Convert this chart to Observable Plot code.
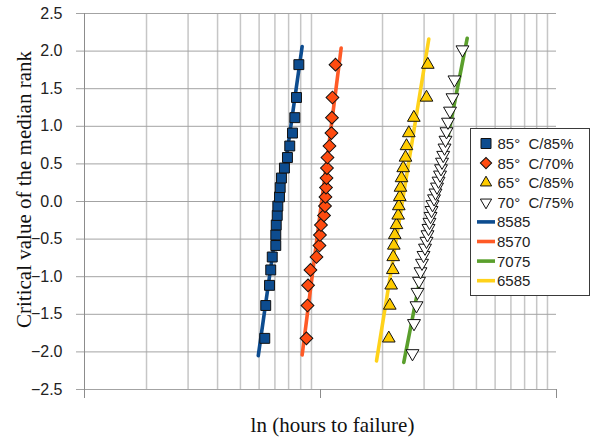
<!DOCTYPE html>
<html><head><meta charset="utf-8">
<script src="https://cdn.jsdelivr.net/npm/d3@7"></script>
<script src="https://cdn.jsdelivr.net/npm/@observablehq/plot@0.6"></script>
<style>
body{margin:0;background:#fff;}
#wrap{position:relative;width:592px;height:444px;overflow:hidden;background:#fff;}
#legend{position:absolute;left:470px;top:128px;width:118px;height:166px;border:1px solid #3a3a3a;background:#fff;}
</style></head><body><div id="wrap"></div>
<script>
// critical values of the median rank (y)
const rank20 = [-1.82,-1.383,-1.115,-0.91,-0.738,-0.585,-0.445,-0.312,-0.185,-0.061,0.061,0.185,0.312,0.445,0.585,0.738,0.91,1.115,1.383,1.82];
const rank32 = [-2.02,-1.62,-1.383,-1.205,-1.058,-0.931,-0.818,-0.714,-0.617,-0.526,-0.439,-0.355,-0.274,-0.195,-0.116,-0.039,0.039,0.116,0.195,0.274,0.355,0.439,0.526,0.617,0.714,0.818,0.931,1.058,1.205,1.383,1.62,2.02];
// hours to failure (x, log axis)
const hours8585 = [63.4,64.0,66.4,67.2,68.2,70.6,70.6,70.9,71.6,72.0,73.2,73.7,74.6,76.8,79.1,80.9,83.1,85.0,86.4,88.4];
const hours8570 = [95.2,96.2,96.7,99.0,105.0,108.1,108.6,109.7,113.0,114.1,114.6,115.2,115.8,116.3,116.9,119.2,121.5,122.1,122.7,126.4];
const hours6585 = [212.6,214.7,217.6,221.1,222.0,223.3,225.4,229.2,233.0,234.4,236.7,238.3,240.7,244.7,250.3,252.7,258.5,271.4,307.2,311.1];
const hours7075 = [267.9,271.9,278.6,281.4,285.5,289.7,294.0,298.3,302.7,307.2,310.1,313.2,316.2,319.5,322.6,325.8,330.6,335.4,340.4,345.4,350.5,353.9,357.4,361.6,366.2,369.7,373.3,378.9,386.4,395.9,403.6,436.3];
// fitted lines (endpoints)
const fit8585Hours = [59.5, 91.3],  fit8585Rank = [-2.05, 2.06];
const fit8570Hours = [91.3, 133.6], fit8570Rank = [-2.04, 2.04];
const fit7075Hours = [246.1, 456.8], fit7075Rank = [-2.14, 2.17];
const fit6585Hours = [188.6, 314.1], fit6585Rank = [-2.12, 2.16];
// names
const pointNames = ["85°  C/85%", "85°  C/70%", "65°  C/85%", "70°  C/75%"];
const lineNames = ["8585", "8570", "7075", "6585"];
// axes
const xDomain = [10.92, 1092];
const xGrid = [20,30,40,50,60,70,80,90,100,200,300,400,500,600,700,800,900,1000];
const xTickMarks = [10.92, 109.2, 1092];
const yTicks = [-2.5,-2,-1.5,-1,-0.5,0,0.5,1,1.5,2,2.5];
const yLabel = "Critical value of the median rank";
const xLabel = "ln (hours to failure)";

const colors = {blue:"#0d4c8f", orange:"#ff4b10", orangeLine:"#ff5a26", green:"#5a9f2c", yellowLine:"#ffd21a", yellow:"#ffcc00"};

const toPts = (xs, ys) => xs.map((x, i) => ({x, y: ys[i]}));
const s8585 = toPts(hours8585, rank20);
const s8570 = toPts(hours8570, rank20);
const s6585 = toPts(hours6585, rank20);
const s7075 = toPts(hours7075, rank32);

const serif = "'Liberation Serif', 'Times New Roman', serif";
const lineStyle = {x:"x", y:"y", strokeWidth:3.6};
const chart = Plot.plot({
  width: 592, height: 444,
  marginLeft: 84, marginRight: 36, marginTop: 13, marginBottom: 55,
  x: {type: "log", domain: xDomain, axis: null},
  y: {domain: [-2.5, 2.5], axis: null},
  style: {fontFamily: "'Liberation Sans', Arial, sans-serif", background: "#fff", color: "#222"},
  marks: [
    Plot.ruleX(xGrid, {stroke: "#c6c6c6", strokeWidth: 1.5}),
    Plot.ruleY(yTicks, {stroke: "#a3a3a3", insetLeft: -8}),
    Plot.ruleX([xDomain[0]], {stroke: "#8c8c8c"}),
    Plot.ruleX(xTickMarks, {y1: -2.5, y2: -2.5, insetBottom: -9, stroke: "#8c8c8c"}),
    Plot.axisY(yTicks, {tickSize: 0, tickPadding: 22, fontSize: 16, label: null,
      tickFormat: d => (d < 0 ? "\u2212" : "") + Math.abs(d).toFixed(1)}),
    Plot.line(toPts(fit8585Hours, fit8585Rank), {...lineStyle, stroke: colors.blue}),
    Plot.line(toPts(fit8570Hours, fit8570Rank), {...lineStyle, stroke: colors.orangeLine}),
    Plot.line(toPts(fit7075Hours, fit7075Rank), {...lineStyle, stroke: colors.green}),
    Plot.line(toPts(fit6585Hours, fit6585Rank), {...lineStyle, stroke: colors.yellowLine}),
    Plot.dot(s8585, {x:"x", y:"y", symbol:"square", r:5.6, fill: colors.blue, stroke:"#111", strokeWidth:1}),
    Plot.dot(s8570, {x:"x", y:"y", symbol:"square", rotate:45, r:5.1, fill: colors.orange, stroke:"#111", strokeWidth:1}),
    Plot.dot(s6585, {x:"x", y:"y", symbol:"triangle", r:4.7, fill: colors.yellow, stroke:"#111", strokeWidth:1}),
    Plot.dot(s7075, {x:"x", y:"y", symbol:"triangle", rotate:180, r:4.8, fill: "#fff", stroke:"#111", strokeWidth:1}),
    Plot.text([yLabel], {frameAnchor: "left", textAnchor: "middle", dx: -60, dy: -12, rotate: -90, fontFamily: serif, fontSize: 21, fill: "#111"}),
    Plot.text([xLabel], {frameAnchor: "bottom", textAnchor: "middle", dx: 12, dy: 42, fontFamily: serif, fontSize: 21, fill: "#111"})
  ]
});
const wrap = document.getElementById("wrap");
wrap.appendChild(chart);

// legend
const leg = document.createElement("div");
leg.id = "legend";
wrap.appendChild(leg);
const svg = d3.select(leg).append("svg").attr("width", 118).attr("height", 166)
  .style("font-family", "'Liberation Sans', Arial, sans-serif").style("font-size", "15px");
const symDefs = [
  {type: d3.symbolSquare, size: 100, rot: 0, fill: colors.blue},
  {type: d3.symbolSquare, size: 64, rot: 45, fill: colors.orange},
  {type: d3.symbolTriangle, size: 55, rot: 0, fill: colors.yellow},
  {type: d3.symbolTriangle, size: 55, rot: 180, fill: "#fff"}
];
const lineCols = [colors.blue, colors.orangeLine, colors.green, colors.yellowLine];
const rowY = i => 14.5 + i * 19.6;
pointNames.forEach((name, i) => {
  const d = symDefs[i];
  svg.append("path").attr("d", d3.symbol(d.type, d.size)())
    .attr("transform", `translate(15,${rowY(i)}) rotate(${d.rot})`)
    .attr("fill", d.fill).attr("stroke", "#111").attr("stroke-width", 1);
  svg.append("text").attr("x", 26.5).attr("y", rowY(i)).attr("dy", "0.36em")
    .attr("fill", "#222").style("white-space", "pre").attr("xml:space", "preserve").text(name);
});
lineNames.forEach((name, j) => {
  const i = j + 4;
  svg.append("line").attr("x1", 6).attr("x2", 24).attr("y1", rowY(i)).attr("y2", rowY(i))
    .attr("stroke", lineCols[j]).attr("stroke-width", 3.6);
  svg.append("text").attr("x", 26).attr("y", rowY(i)).attr("dy", "0.36em").attr("fill", "#222").text(name);
});
</script></body></html>
